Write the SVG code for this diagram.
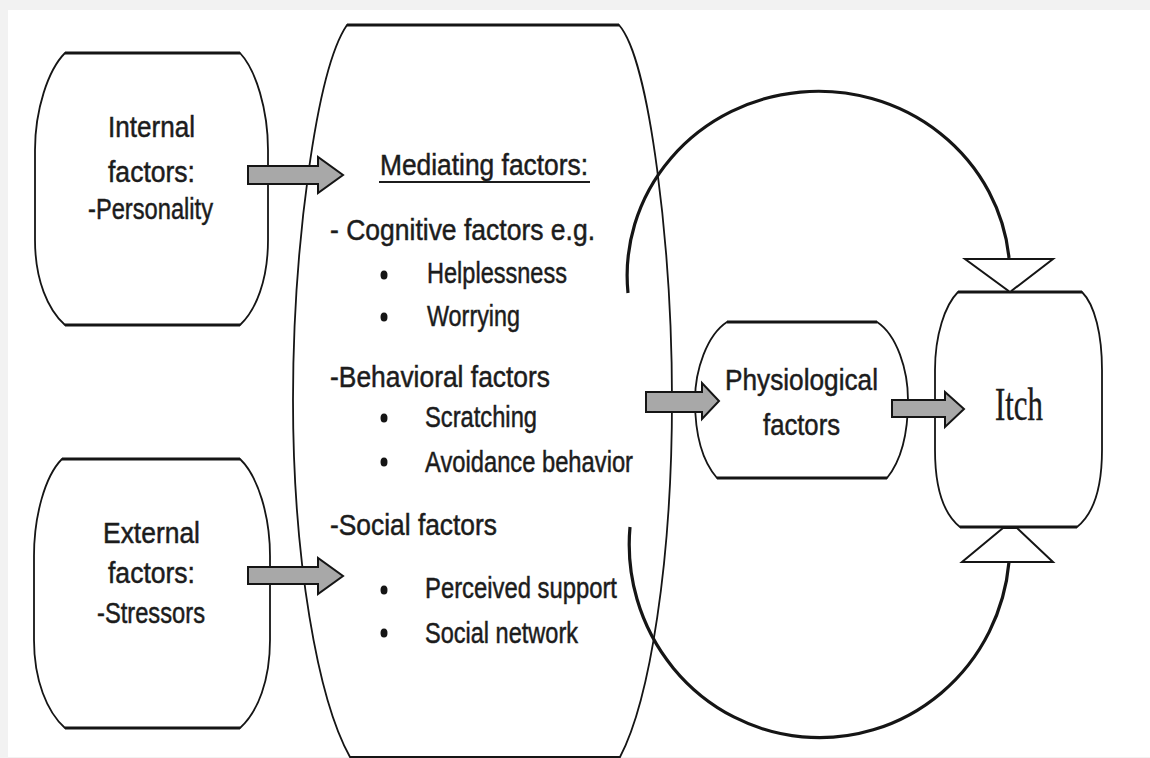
<svg xmlns="http://www.w3.org/2000/svg" width="1150" height="758" viewBox="0 0 1150 758">
<style>
.bg{fill:#ffffff}
.box{fill:#ffffff;stroke:#151515;stroke-width:1.8}
.edge{stroke:#151515;stroke-width:3;fill:none}
.t{font-family:"Liberation Sans",Arial,sans-serif;font-size:30px;fill:#1c1c1c;stroke:#1c1c1c;stroke-width:0.5}
.itch{font-family:"Liberation Serif","Times New Roman",serif;font-size:46px;fill:#1c1c1c;stroke:#1c1c1c;stroke-width:0.4}
.arrow{fill:#a8a8a8;stroke:#151515;stroke-width:2}
.arc{fill:none;stroke:#151515;stroke-width:3.2}
.tri{fill:#ffffff;stroke:#151515;stroke-width:2}
.dot{fill:#151515}
</style>
<rect x="0" y="0" width="1150" height="758" fill="#f2f2f2"/>
<rect class="bg" x="8" y="10" width="1142" height="747"/>

<g id="mediating">
<path class="box" d="M347,25 L619,25 C650,60 672,250 672,400 C672,560 650,700 620,757 L350,757 C318,700 293,560 293,400 C293,250 316,70 347,25 Z"/>
<line class="edge" x1="347" y1="25" x2="619" y2="25"/>
<text class="t" x="380" y="175" textLength="208" lengthAdjust="spacingAndGlyphs">Mediating factors:</text>
<line x1="379" y1="182" x2="590" y2="182" stroke="#1c1c1c" stroke-width="2"/>
<text class="t" x="330" y="240" textLength="265" lengthAdjust="spacingAndGlyphs">- Cognitive factors e.g.</text>
<ellipse class="dot" cx="384" cy="275" rx="3.5" ry="4.5"/>
<text class="t" x="427" y="283" textLength="140" lengthAdjust="spacingAndGlyphs">Helplessness</text>
<ellipse class="dot" cx="384" cy="317" rx="3.5" ry="4.5"/>
<text class="t" x="427" y="326" textLength="93" lengthAdjust="spacingAndGlyphs">Worrying</text>
<text class="t" x="330" y="387" textLength="220" lengthAdjust="spacingAndGlyphs">-Behavioral factors</text>
<ellipse class="dot" cx="384" cy="418" rx="3.5" ry="4.5"/>
<text class="t" x="425" y="427" textLength="112" lengthAdjust="spacingAndGlyphs">Scratching</text>
<ellipse class="dot" cx="384" cy="462" rx="3.5" ry="4.5"/>
<text class="t" x="425" y="472" textLength="208" lengthAdjust="spacingAndGlyphs">Avoidance behavior</text>
<text class="t" x="330" y="535" textLength="167" lengthAdjust="spacingAndGlyphs">-Social factors</text>
<ellipse class="dot" cx="384" cy="590" rx="3.5" ry="4.5"/>
<text class="t" x="425" y="598" textLength="192" lengthAdjust="spacingAndGlyphs">Perceived support</text>
<ellipse class="dot" cx="384" cy="633" rx="3.5" ry="4.5"/>
<text class="t" x="425" y="643" textLength="153" lengthAdjust="spacingAndGlyphs">Social network</text>
</g>

<g id="internal">
<path class="box" d="M65,53 L240,53 C256,70 268,110 268,150 L268,240 C268,280 256,310 240,325 L65,325 C48,310 35,280 35,240 L35,150 C35,110 48,70 65,53 Z"/>
<line class="edge" x1="65" y1="53" x2="240" y2="53"/>
<line class="edge" x1="65" y1="325" x2="240" y2="325"/>
<text class="t" x="108" y="137" textLength="87" lengthAdjust="spacingAndGlyphs">Internal</text>
<text class="t" x="108" y="182" textLength="87" lengthAdjust="spacingAndGlyphs">factors:</text>
<text class="t" x="88" y="219" textLength="125" lengthAdjust="spacingAndGlyphs">-Personality</text>
</g>

<g id="external">
<path class="box" d="M62,459 L240,459 C258,476 270,516 270,556 L270,640 C270,680 258,712 240,728 L65,728 C47,712 34,680 34,640 L34,556 C34,516 45,476 62,459 Z"/>
<line class="edge" x1="62" y1="459" x2="240" y2="459"/>
<line class="edge" x1="65" y1="728" x2="240" y2="728"/>
<text class="t" x="103" y="543" textLength="97" lengthAdjust="spacingAndGlyphs">External</text>
<text class="t" x="108" y="583" textLength="87" lengthAdjust="spacingAndGlyphs">factors:</text>
<text class="t" x="97" y="623" textLength="108" lengthAdjust="spacingAndGlyphs">-Stressors</text>
</g>

<g id="physiological">
<path class="box" d="M727,322 L877,322 C897,335 908,370 908,400 C908,435 900,462 887,478 L717,478 C703,462 695,435 695,400 C695,370 707,335 727,322 Z"/>
<line class="edge" x1="727" y1="322" x2="877" y2="322"/>
<line class="edge" x1="717" y1="478" x2="887" y2="478"/>
<text class="t" x="725" y="390" textLength="153" lengthAdjust="spacingAndGlyphs">Physiological</text>
<text class="t" x="763" y="435" textLength="77" lengthAdjust="spacingAndGlyphs">factors</text>
</g>

<g id="itch">
<path class="box" d="M958,292 L1082,292 C1095,305 1102,335 1102,370 L1102,450 C1102,490 1092,515 1077,527 L960,527 C945,515 935,490 935,450 L935,370 C935,335 945,305 958,292 Z"/>
<line class="edge" x1="958" y1="292" x2="1082" y2="292"/>
<line class="edge" x1="960" y1="527" x2="1077" y2="527"/>
<text class="itch" x="995" y="420" textLength="48" lengthAdjust="spacingAndGlyphs">Itch</text>
</g>

<g id="connectors">
<path class="arc" d="M628,293 A190,183 0 0 1 1009,258"/>
<path class="arc" d="M630,527 A190,193 0 0 0 1009,562"/>
<polygon class="tri" points="965,259 1053,259 1010,292"/>
<polygon class="tri" points="962,562 1053,562 1017,528 1003,528"/>
<path class="arrow" d="M248,166 L318,166 L318,157 L343,175 L318,193 L318,184 L248,184 Z"/>
<path class="arrow" d="M248,567 L318,567 L318,558 L343,576 L318,594 L318,584 L248,584 Z"/>
<path class="arrow" d="M646,392 L702,392 L702,383 L719,401 L702,419 L702,412 L646,412 Z"/>
<path class="arrow" d="M892,400 L945,400 L945,392 L964,409 L945,427 L945,417 L892,417 Z"/>
</g>
</svg>
